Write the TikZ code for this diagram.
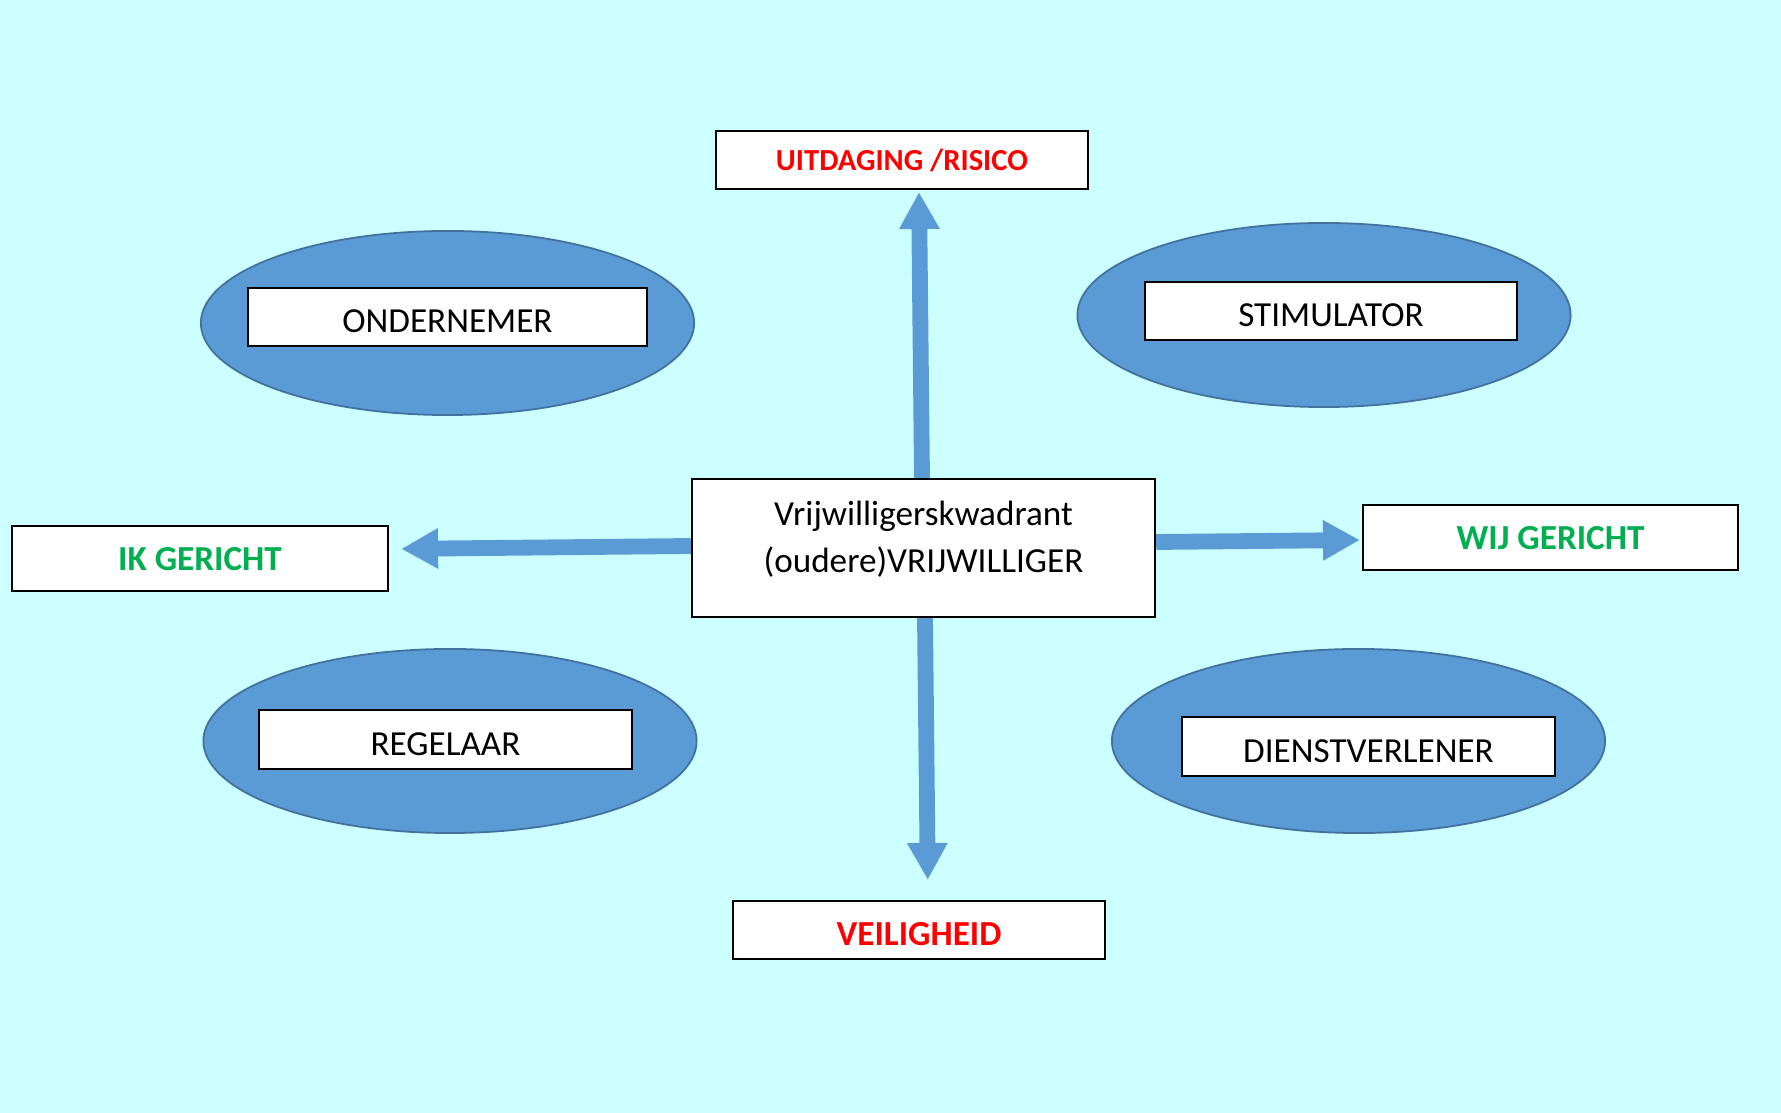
\documentclass[tikz,border=0pt]{standalone}
\usepackage{fontspec}
\setmainfont{Carlito}
\definecolor{bgcyan}{RGB}{204,255,255}
\definecolor{roleblue}{RGB}{91,155,213}
\definecolor{edgeblue}{RGB}{65,113,156}
\definecolor{riskred}{RGB}{255,0,0}
\definecolor{dirgreen}{RGB}{0,176,80}
\usetikzlibrary{arrows.meta,shapes.geometric,positioning,calc}
\tikzset{
  box/.style={rectangle,draw=black,line width=0.6pt,fill=white,
              minimum width=#1,minimum height=0.58cm,inner sep=0pt,
              text height=9pt,text depth=0pt,
              font=\fontsize{10}{12}\selectfont},
  box/.default=3.72cm,
  role/.style={ellipse,draw=edgeblue,line width=0.5pt,fill=roleblue,
               minimum width=4.93cm,minimum height=1.84cm,inner sep=0pt},
  risk/.style={text=riskred,text height=7pt,font=\fontsize{10}{12}\selectfont\bfseries},
  focus/.style={text=dirgreen,text height=7pt,font=\fontsize{10}{12}\selectfont\bfseries},
  arrow/.style={-{Triangle[width=10.8pt,length=10.5pt]},line width=4.5pt,roleblue},
}
\begin{document}
\begin{tikzpicture}[x=0.01cm,y=-0.01cm]
        \fill[bgcyan] (0,0) rectangle (1781,1113);
        \useasboundingbox (0,0) rectangle (1781,1113);
        % rollen
        \node[role] (onderE) at (447.5,323) {};
        \node[role] (stimE) at (1324,315) {};
        \node[role] (regelE) at (450,741) {};
        \node[role] (dienstE) at (1358.5,741) {};
        \node[box=3.99cm] (onder) at (447.5,317) {ONDERNEMER};
        \node[box] (stim) at (1331,311) {STIMULATOR};
        \node[box=3.73cm,minimum height=0.59cm] (regel) at (445.5,739.5) {REGELAAR};
        \node[box=3.73cm,minimum height=0.59cm] (dienst) at (1368.5,746.5) {DIENSTVERLENER};
        % assen
        \node[box,risk,text height=6pt,font=\fontsize{8.7}{11}\selectfont\bfseries] (uit) at (902,160) {UITDAGING /RISICO};
        \node[box,risk,text height=9pt] (veilig) at (919,930) {VEILIGHEID};
        \node[box=3.76cm,minimum height=0.65cm,focus] (ik) at (200,558.5) {IK GERICHT};
        \node[box=3.75cm,minimum height=0.65cm,focus] (wij) at (1550.5,537.5) {WIJ GERICHT};
        \node[box=4.63cm,minimum height=1.38cm,align=center,
              text height=20.8pt,text depth=7.1pt,
              font=\fontsize{10}{13.3}\selectfont] (kw) at (923.5,548)
            {Vrijwilligerskwadrant\\(oudere)VRIJWILLIGER};
        \draw[arrow] ($(kw.north)+(-1.5,0)$) -- ($(kw.north |- uit.south)+(-4.5,2)$);
        \draw[arrow,shorten >=0.12cm] ($(kw.west)+(0,-2)$) -- ($(ik.east)+(0,-9.5)$);
        \draw[arrow] ($(kw.east)+(0,-6)$) -- ($(wij.west)+(-2,2.5)$);
        \draw[arrow,shorten >=0.2cm] ($(kw.south)+(1.5,0)$) -- ($(veilig.north)+(9,0)$);
      \end{tikzpicture}
\end{document}
